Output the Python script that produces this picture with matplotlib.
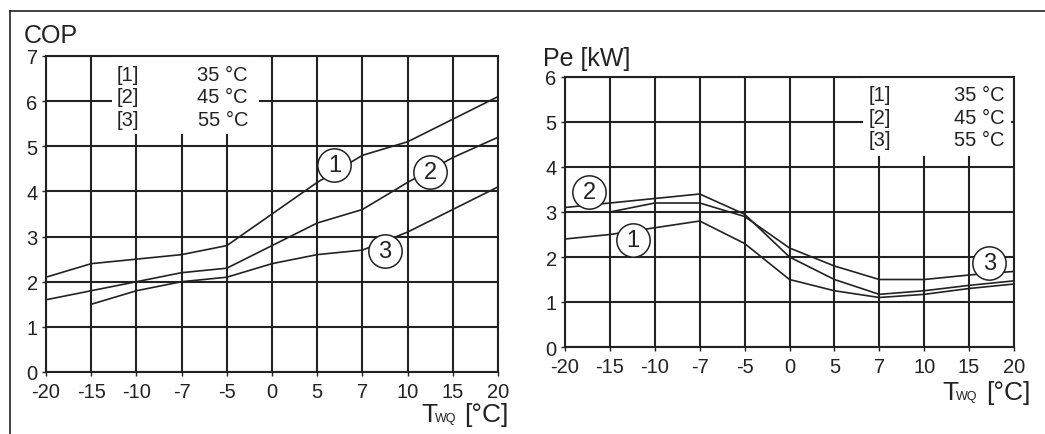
import matplotlib
matplotlib.use("Agg")
import matplotlib.pyplot as plt
from matplotlib.patches import Rectangle

plt.rcParams["font.family"] = ["Liberation Sans", "DejaVu Sans"]

# source temperature categories (equally spaced on the chart)
t_labels = ["-20", "-15", "-10", "-7", "-5", "0", "5", "7", "10", "15", "20"]
x = list(range(len(t_labels)))

# COP curves
cop_35 = [2.1, 2.4, 2.5, 2.6, 2.8, 3.5, 4.2, 4.8, 5.1, 5.6, 6.1]
cop_45 = [1.6, 1.8, 2.0, 2.2, 2.3, 2.8, 3.3, 3.6, 4.2, 4.75, 5.2]
cop_55 = [None, 1.5, 1.8, 2.0, 2.1, 2.4, 2.6, 2.7, 3.1, 3.6, 4.1]

# electrical power curves
pe_35 = [2.4, 2.5, 2.65, 2.8, 2.3, 1.5, 1.25, 1.1, 1.17, 1.3, 1.4]
pe_45 = [3.1, 3.2, 3.3, 3.4, 2.95, 2.0, 1.5, 1.17, 1.25, 1.37, 1.47]
pe_55 = [3.0, 3.0, 3.2, 3.2, 2.9, 2.2, 1.8, 1.5, 1.5, 1.6, 1.68]

legend_ids = ["[1]", "[2]", "[3]"]
legend_temps = ["35 °C", "45 °C", "55 °C"]

# curve label positions (x index, value)
cop_marks = {"1": (6.38, 4.58), "2": (8.5, 4.43), "3": (7.5, 2.68)}
pe_marks = {"2": (0.54, 3.45), "1": (1.52, 2.38), "3": (9.45, 1.86)}

ink = "#222222"
W, H = 1045, 435
fig = plt.figure(figsize=(W / 100, H / 100), dpi=100)


def px(xp, yp):
    return xp / W, 1 - yp / H


def setup(ax, ymax):
    ax.set_xlim(0, 10)
    ax.set_ylim(0, ymax)
    ax.set_xticks(x)
    ax.set_xticklabels(t_labels)
    ax.set_yticks(range(ymax + 1))
    ax.grid(True, color=ink, lw=1.5)
    for s in ax.spines.values():
        s.set_color(ink)
        s.set_linewidth(1.5)
    ax.tick_params(direction="out", length=3, width=1, colors=ink,
                   labelsize=14.5, labelcolor=ink)
    ax.tick_params(axis="x", pad=4)
    ax.tick_params(axis="y", pad=3)


def curve_marks(ax, marks):
    for k, (mx, my) in marks.items():
        ax.plot(mx, my, "o", ms=24, mfc="white", mec=ink, mew=1.1, zorder=5)
        ax.text(mx, my, k, ha="center", va="center", fontsize=17, color=ink, zorder=6)


def legend_box(ax, x0, x1, y0, y1, xid, xtemp, rows):
    ax.add_patch(Rectangle((x0, y0), x1 - x0, y1 - y0, facecolor="white",
                           edgecolor="none", zorder=2.2))
    for i in range(3):
        ax.text(xid, rows[i], legend_ids[i], ha="center", va="center",
                fontsize=14.5, color=ink, zorder=3)
        ax.text(xtemp, rows[i], legend_temps[i], ha="right", va="center",
                fontsize=14.5, color=ink, zorder=3)


# left chart: COP
ax1 = fig.add_axes([46 / W, 1 - 373 / H, 452 / W, 316 / H])
setup(ax1, 7)
for ys in (cop_35, cop_45, cop_55):
    xs = [xi for xi, v in zip(x, ys) if v is not None]
    vs = [v for v in ys if v is not None]
    ax1.plot(xs, vs, color=ink, lw=1.2, zorder=3)
curve_marks(ax1, cop_marks)
legend_box(ax1, 1.46, 4.72, 5.27, 7.0, 1.81, 4.47, [6.6, 6.1, 5.6])

# right chart: Pe
ax2 = fig.add_axes([565 / W, 1 - 348 / H, 449 / W, 270 / H])
setup(ax2, 6)
for ys in (pe_35, pe_45, pe_55):
    ax2.plot(x, ys, color=ink, lw=1.2, zorder=3)
curve_marks(ax2, pe_marks)
legend_box(ax2, 6.63, 9.94, 4.25, 6.0, 7.01, 9.79, [5.62, 5.1, 4.6])

# axis titles
fig.text(*px(24, 43), "COP", fontsize=18, color=ink, va="baseline")
fig.text(*px(543, 66), "Pe [kW]", fontsize=18, color=ink, va="baseline")
for (tx, by) in ((421, 422), (942, 400)):
    fig.text(*px(tx, by), "T", fontsize=19, color=ink, va="baseline")
    fig.text(*px(tx + 14, by), "WQ", fontsize=9, color=ink, va="baseline")
    fig.text(*px(tx + 88, by), "[°C]", fontsize=19, color=ink, va="baseline", ha="right")

# outer frame lines
fig.add_artist(plt.Line2D([10 / W, 1], [1 - 12 / H, 1 - 12 / H], color=ink, lw=1.2))
fig.add_artist(plt.Line2D([10 / W, 10 / W], [0, 1 - 12 / H], color=ink, lw=1.2))

fig.savefig("out.png", dpi=100)
